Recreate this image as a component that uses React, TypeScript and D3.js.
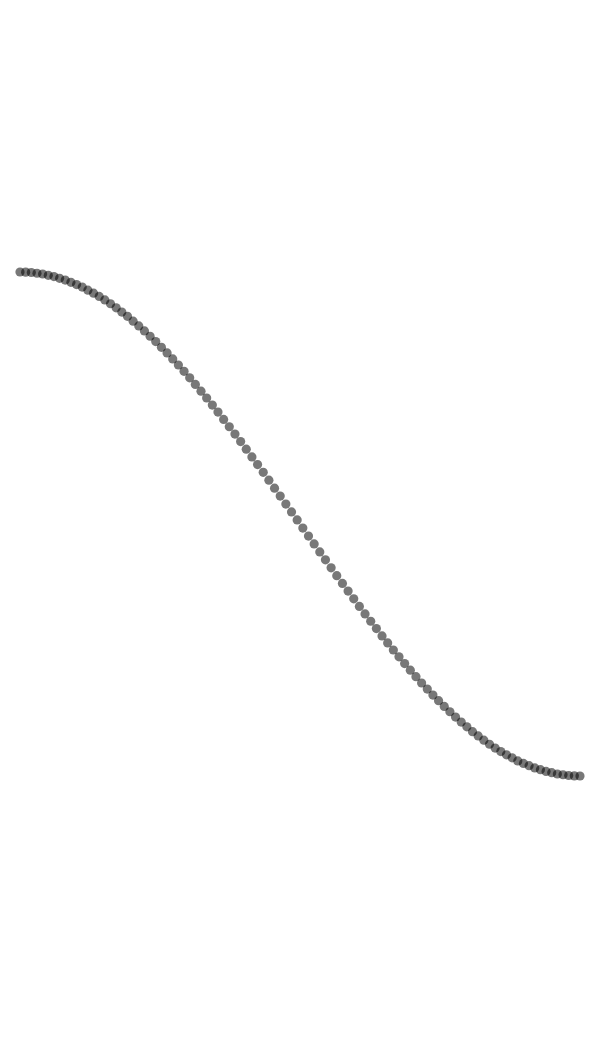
import React from 'react';
import * as d3 from 'd3';

// first half of the curve; second half mirrors it
const firstHalf = [
  1.0, 0.9995, 0.998, 0.995, 0.992, 0.987, 0.982, 0.975, 0.968, 0.959,
  0.95, 0.94, 0.928, 0.916, 0.903, 0.889, 0.874, 0.858, 0.841, 0.824,
  0.805, 0.786, 0.766, 0.745, 0.724, 0.701, 0.679, 0.655, 0.631, 0.606,
  0.58, 0.554, 0.527, 0.5, 0.472, 0.444, 0.415, 0.386, 0.357, 0.327,
  0.297, 0.266, 0.236, 0.205, 0.174, 0.142, 0.111, 0.079, 0.048, 0.016
];
const secondHalf = firstHalf.slice().reverse().map(v => -v);
const values = firstHalf.concat(secondHalf);

const width = 600;
const height = 1050;

export default function App() {
  const xScale = d3.scaleLinear()
    .domain([0, values.length - 1])
    .range([20, 580]);

  const yScale = d3.scaleLinear()
    .domain([-1, 1])
    .range([776, 272]);

  return (
    <svg width={width} height={height}
      style={{position: 'absolute', left: 0, top: 0, background: '#fff'}}>
      <g>
        {values.map((v, i) => (
          <circle key={i} cx={xScale(i)} cy={yScale(v)} r={4.6}
            fill="#000" fillOpacity={0.53} />
        ))}
      </g>
    </svg>
  );
}
